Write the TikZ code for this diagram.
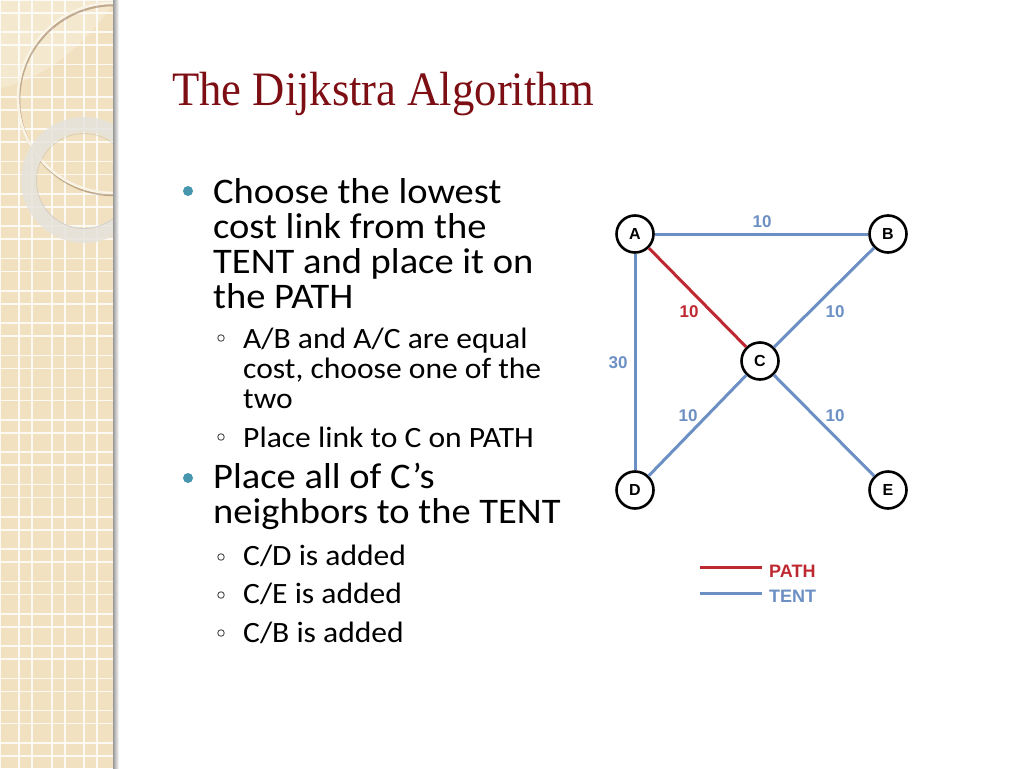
\documentclass[tikz,border=0pt]{standalone}
\usepackage{fontspec}
\setmainfont[FakeStretch=1.07]{Carlito}
\newfontfamily\titlefont[FakeStretch=0.93]{Liberation Serif}
\newfontfamily\labfont{Liberation Sans}
\definecolor{beige}{RGB}{241,225,192}
\definecolor{titlered}{RGB}{125,14,20}
\definecolor{bullteal}{RGB}{70,150,176}
\definecolor{tentblue}{RGB}{108,143,196}
\definecolor{pathred}{RGB}{190,40,48}
\definecolor{ringgray}{RGB}{230,227,220}
\definecolor{ringcream}{RGB}{250,244,230}
\tikzset{
  gridline/.style={white, opacity=0.8, line width=1.6pt},
  body/.style={anchor=base west, inner sep=0pt, font=\fontsize{36}{36}\selectfont},
  subbody/.style={anchor=base west, inner sep=0pt, font=\fontsize{29.5}{29.5}\selectfont},
  bulletdot/.style={circle, fill=bullteal, inner sep=0pt, minimum size=10pt},
  subdot/.style={circle, draw=black!70, line width=0.9pt, inner sep=0pt, minimum size=6.5pt},
  vertex/.style={circle, draw=black, line width=2.6pt, fill=white, minimum size=37pt, inner sep=0pt, font=\labfont\bfseries\fontsize{16}{16}\selectfont},
  tent/.style={tentblue, line width=3pt},
  pathe/.style={pathred, line width=3pt},
  tentlab/.style={text=tentblue, inner sep=0pt, font=\labfont\bfseries\fontsize{17}{17}\selectfont},
  pathlab/.style={text=pathred, inner sep=0pt, font=\labfont\bfseries\fontsize{17}{17}\selectfont},
  leglab/.style={anchor=west, inner sep=0pt, font=\labfont\bfseries\fontsize{18}{18}\selectfont}
}
\begin{document}
\begin{tikzpicture}[x=1pt,y=-1pt]
\useasboundingbox (0,0) rectangle (1024,768);
\fill[white] (0,0) rectangle (1024,768);
% left decorative strip
\fill[beige] (0,0) rectangle (113,768);
\foreach \x in {0,19,32,52,65,84,97} \draw[gridline] (\x,0) -- (\x,768);
\foreach \k in {0,...,24} {
  \draw[gridline] (0,{\k*32.3}) -- (113,{\k*32.3});
  \draw[gridline] (0,{\k*32.3+13}) -- (113,{\k*32.3+13});
}
\begin{scope}
  \clip (0,0) rectangle (113,768);
  \fill[white, opacity=0.25] (0,0) -- (0,88) .. controls (45,80) and (90,40) .. (113,3) -- (113,0) -- cycle;
  \draw[black!40!brown, opacity=0.4, line width=2.5pt] (114,100) circle (95);
  \draw[ringcream, line width=2.5pt] (113,98) circle (95);
  \draw[ringgray, opacity=0.85, line width=15pt] (84,180) circle (55.5);
  \draw[black!30, opacity=0.4, line width=0.8pt] (84,181) circle (47.5);
\end{scope}
\shade[left color=black!40, right color=white] (113,0) rectangle (119,768);
% title
\node[anchor=base west, inner sep=0pt, text=titlered, font=\titlefont\fontsize{48}{48}\selectfont] (title) at (172,105) {The Dijkstra Algorithm};
% bullets
\node[bulletdot] (b1) at (188,191) {};
\node[body] (l1) at (213,203) {Choose the lowest};
\node[body] (l2) at (213,238) {cost link from the};
\node[body] (l3) at (213,273) {TENT and place it on};
\node[body] (l4) at (213,308) {the PATH};
\node[subdot] (s1) at (221,338) {};
\node[subbody] (l5) at (243,348) {A/B and A/C are equal};
\node[subbody] (l6) at (243,378) {cost, choose one of the};
\node[subbody] (l7) at (243,408) {two};
\node[subdot] (s2) at (221,437) {};
\node[subbody] (l8) at (243,447) {Place link to C on PATH};
\node[bulletdot] (b2) at (188,478) {};
\node[body] (l9) at (213,488) {Place all of C’s};
\node[body] (l10) at (213,523) {neighbors to the TENT};
\node[subdot] (s3) at (221,557) {};
\node[subbody] (l11) at (243,565) {C/D is added};
\node[subdot] (s4) at (221,595) {};
\node[subbody] (l12) at (243,603) {C/E is added};
\node[subdot] (s5) at (221,633) {};
\node[subbody] (l13) at (243,642) {C/B is added};
% graph
\node[vertex] (A) at (635,234) {A};
\node[vertex] (B) at (888,234) {B};
\node[vertex] (C) at (760,361) {C};
\node[vertex] (D) at (635,490) {D};
\node[vertex] (E) at (888,490) {E};
\draw[tent] (A) -- (B);
\draw[pathe] (A) -- (C);
\draw[tent] (B) -- (C);
\draw[tent] (A) -- (D);
\draw[tent] (C) -- (D);
\draw[tent] (C) -- (E);
\node[tentlab] (wab) at (762,222) {10};
\node[pathlab] (wac) at (689,312) {10};
\node[tentlab] (wbc) at (835,312) {10};
\node[tentlab] (wad) at (618,363) {30};
\node[tentlab] (wcd) at (688,416) {10};
\node[tentlab] (wce) at (835,416) {10};
% legend
\coordinate (r1) at (700,567);
\coordinate (r2) at (762,567);
\coordinate (t1) at (700,593);
\coordinate (t2) at (762,593);
\draw[pathe] (r1) -- (r2);
\draw[tent] (t1) -- (t2);
\node[leglab, text=pathred] (lpath) at (769,571) {PATH};
\node[leglab, text=tentblue] (ltent) at (769,596) {TENT};
\end{tikzpicture}
\end{document}
